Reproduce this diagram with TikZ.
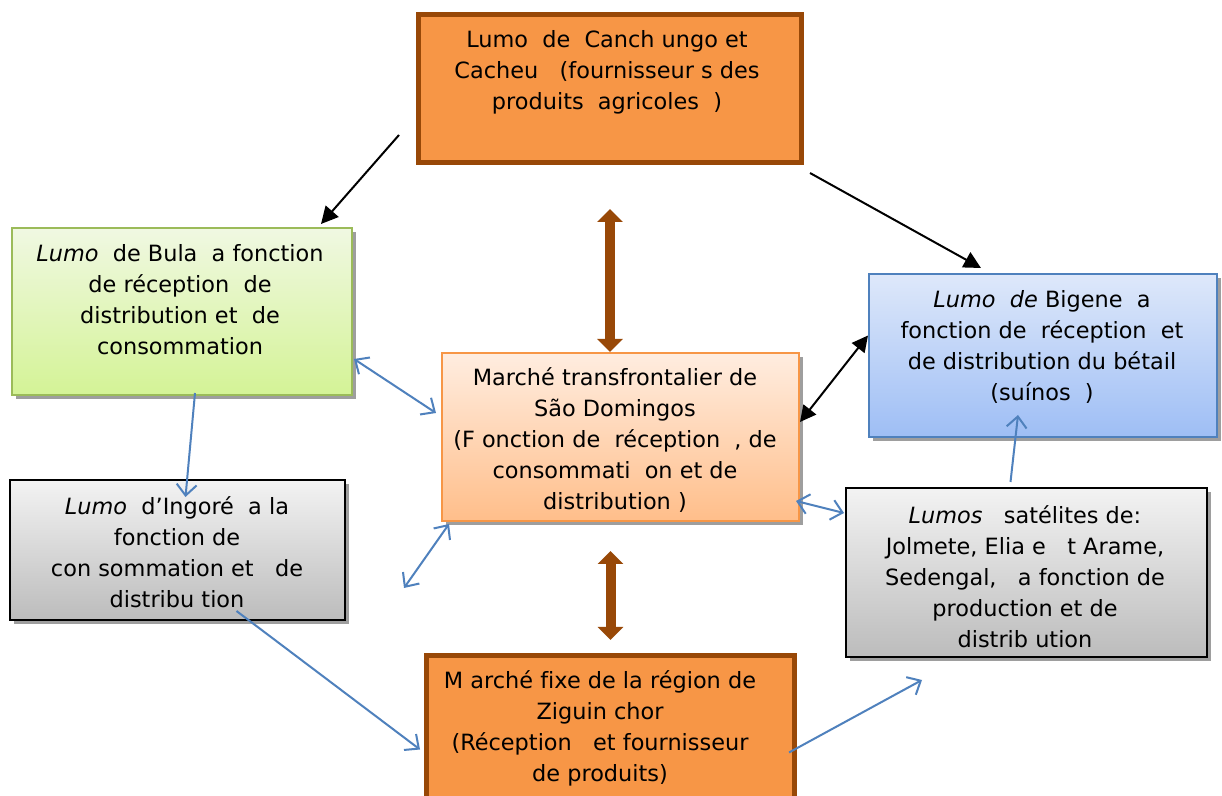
\documentclass[tikz,border=0pt]{standalone}
\usepackage{fontspec}
\setmainfont[Ligatures=NoCommon]{DejaVu Sans}
\usetikzlibrary{arrows.meta,shadows}
\definecolor{orangefill}{RGB}{247,150,70}
\definecolor{brownline}{RGB}{152,72,7}
\definecolor{greenline}{RGB}{155,187,89}
\definecolor{greentop}{RGB}{240,248,226}
\definecolor{greenbot}{RGB}{212,243,150}
\definecolor{blueline}{RGB}{79,129,189}
\definecolor{bluetop}{RGB}{222,232,250}
\definecolor{bluebot}{RGB}{158,190,245}
\definecolor{graytop}{RGB}{243,243,243}
\definecolor{graybot}{RGB}{188,188,188}
\definecolor{peachline}{RGB}{247,150,70}
\definecolor{peachtop}{RGB}{255,237,224}
\definecolor{peachbot}{RGB}{255,190,138}
\definecolor{arrowblue}{RGB}{79,129,189}
\begin{document}
\begin{tikzpicture}[x=0.5pt, y=-0.5pt,
   every node/.style={inner sep=0pt},
   box/.style={rectangle, draw, line width=1pt},
   shadowed/.style={drop shadow={shadow xshift=2pt, shadow yshift=-2pt, fill=black!38, opacity=1}},
   orangebox/.style={box, draw=brownline, fill=orangefill, line width=2.5pt},
   greenbox/.style={box, shadowed, draw=greenline, top color=greentop, bottom color=greenbot},
   bluebox/.style={box, shadowed, draw=blueline, top color=bluetop, bottom color=bluebot},
   graybox/.style={box, shadowed, draw=black, top color=graytop, bottom color=graybot},
   peachbox/.style={box, shadowed, draw=peachline, top color=peachtop, bottom color=peachbot},
   txt/.style={align=center, font=\fontsize{11.2}{15.5}\selectfont},
   blackarrow/.style={line width=1pt, -{Triangle[length=8.5pt,width=8.5pt]}},
   blackboth/.style={line width=1pt, {Triangle[length=8pt,width=8pt]}-{Triangle[length=8pt,width=8pt]}},
   bluearrow/.style={line width=1pt, draw=arrowblue, -{Straight Barb[length=5.5pt,width=10pt]}},
   blueboth/.style={line width=1pt, draw=arrowblue, {Straight Barb[length=5.5pt,width=10pt]}-{Straight Barb[length=5.5pt,width=10pt]}},
   brownarrow/.style={line width=5pt, draw=brownline, {Triangle[length=6.5pt,width=12.5pt]}-{Triangle[length=6.5pt,width=12.5pt]}}]

\path[use as bounding box, fill=white] (0,0) rectangle (1222,796);

\node[orangebox, minimum width=191.5pt, minimum height=74pt] (cachungo) at (610,88.5) {};
\node[greenbox, minimum width=170pt, minimum height=83.5pt] (bula) at (182,311.5) {};
\node[bluebox, minimum width=174pt, minimum height=81.5pt] (bigene) at (1043,355.5) {};
\node[peachbox, minimum width=178.5pt, minimum height=84pt] (sao) at (620.5,437) {};
\node[graybox, minimum width=167.5pt, minimum height=70pt] (ingore) at (177.5,550) {};
\node[graybox, minimum width=180.5pt, minimum height=84.5pt] (satel) at (1026.5,572.5) {};
\node[orangebox, minimum width=184pt, minimum height=87pt] (zig) at (610.5,742.5) {};

\node[txt] (cachungo-t) at (607,72.5) {Lumo\ \ de\ \ Canch ungo et\\Cacheu\ \ \ (fournisseur\ s des\\produits\ \ agricoles\ \ )};
\node[txt] (bula-t) at (180,299.5) {\textit{Lumo}\ \ de Bula\ \ a fonction\\de\ réception\ \ de\\distribution et\ \ de\\consommation};
\node[txt] (bigene-t) at (1042,347) {\textit{Lumo\ \ de} Bigene\ \ a\\fonction de\ \ réception\ \ et\\de distribution du bétail\\(suínos\ \ )};
\node[txt] (sao-t) at (615,440) {Marché transfrontalier de\\São Domingos\\(F onction de\ \ réception\ \ , de\\consommati\ \ on et de\\distribution\ )};
\node[txt] (ingore-t) at (177,552) {\textit{Lumo}\ \ d’Ingoré\ \ a la\\fonction de\\con sommation et\ \ \ de\\distribu tion};
\node[txt] (satel-t) at (1025,576.5) {\textit{Lumos}\ \ \ satélites de:\\Jolmete, Elia e\ \ \ t Arame,\\Sedengal,\ \ \ a fonction de\\production et de\\distrib ution};
\node[txt] (zig-t) at (600,728.5) {M arché fixe de la région de\\Ziguin chor\\(Réception\ \ \ et fournisseur\\de produits)};

\coordinate (free1) at (404,588);
\coordinate (free2) at (922,680);

\draw[blackarrow] ([shift={(-17,-30)}]cachungo.south west) -- ([shift={(-32,-3)}]bula.north east);
\draw[blackarrow] ([shift={(6,8)}]cachungo.south east) -- ([shift={(113,-5)}]bigene.north west);
\draw[blackboth] ([shift={(0,-15)}]sao.east) -- ([shift={(0,-20)}]bigene.west);

\draw[brownarrow] ([shift={(0,44)}]cachungo.south) -- (cachungo.south |- sao.north);
\draw[brownarrow] ([shift={(0,-102)}]zig.north) -- ([shift={(0,-13)}]zig.north);

\draw[blueboth] ([shift={(1,-37)}]bula.south east) -- ([shift={(-5,-24)}]sao.west);
\draw[bluearrow] ([shift={(13,-3)}]bula.south) -- ([shift={(8,18)}]ingore.north);
\draw[blueboth] ([shift={(8,2)}]sao.south west) -- (free1);
\draw[bluearrow] ([shift={(59,-10)}]ingore.south) -- ([shift={(-4,7)}]zig.west);
\draw[bluearrow] ([shift={(-8,10)}]zig.east) -- (free2);
\draw[blueboth] ([shift={(-4,-21)}]sao.south east) -- ([shift={(-1,26)}]satel.north west);
\draw[bluearrow] ([shift={(-16,-5)}]satel.north) -- ([shift={(-25,-23)}]bigene.south);

\end{tikzpicture}
\end{document}
